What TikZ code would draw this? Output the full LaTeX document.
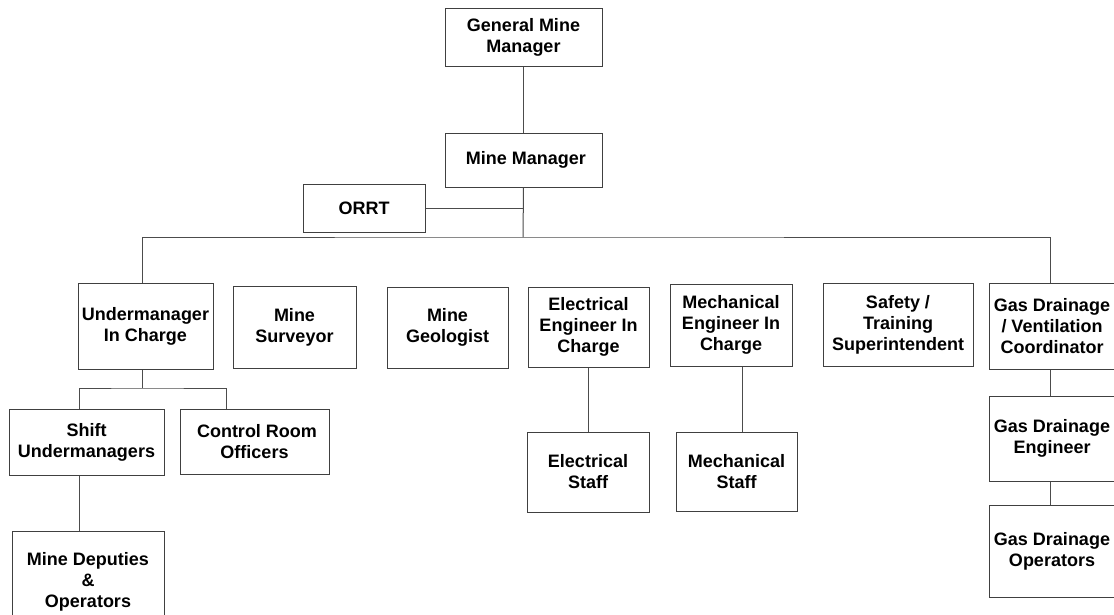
\documentclass[tikz,border=0pt]{standalone}
\usepackage{fontspec}
\setmainfont{Liberation Sans}
\usepackage{tikz}
\usetikzlibrary{positioning}

\begin{document}
\begin{tikzpicture}[x=1pt,y=-1pt,
    post/.style={draw=black!75, line width=1pt, fill=white, align=center,
        inner sep=2pt, font=\fontsize{18}{21}\selectfont\bfseries},
    link/.style={draw=black!70, line width=1pt}]
    \clip (0,0) rectangle (1114,614);
    \fill[white] (0,0) rectangle (1114,614);
    % top of the tree
    \node[post, minimum width=157, minimum height=58] (gmm) at (523.5,37) {General Mine\\Manager};
    \node[post, minimum width=157, minimum height=54] (mm) at (523.5,160) {\ Mine Manager};
    \node[post, minimum width=122, minimum height=48] (orrt) at (364,208) {ORRT};
    % second row
    \node[post, minimum width=135, minimum height=86] (uic) at (145.5,326) {Undermanager\\In Charge};
    \node[post, minimum width=123, minimum height=82] (surv) at (294.5,327) {Mine\\Surveyor};
    \node[post, minimum width=121, minimum height=81] (geol) at (447.5,327.5) {Mine\\Geologist};
    \node[post, minimum width=121, minimum height=80] (eeic) at (588.5,327) {Electrical\\Engineer In\\Charge};
    \node[post, minimum width=122, minimum height=82] (meic) at (731,325) {Mechanical\\Engineer In\\Charge};
    \node[post, minimum width=150, minimum height=83] (safety) at (898,324.5) {Safety /\\Training\\Superintendent};
    \node[post, minimum width=126, minimum height=86] (gdvc) at (1052,326) {Gas Drainage\\/ Ventilation\\Coordinator};
    % lower rows
    \node[post, minimum width=155, minimum height=66] (su) at (86.5,442) {Shift\\Undermanagers};
    \node[post, minimum width=149, minimum height=65] (cro) at (254.5,441.5) {\ Control Room\\Officers};
    \node[post, minimum width=152, minimum height=102] (mdo) at (88,582) {Mine Deputies\\\&\\Operators};
    \node[post, minimum width=122, minimum height=80] (es) at (588,472) {Electrical\\Staff};
    \node[post, minimum width=121, minimum height=79] (ms) at (736.5,471.5) {Mechanical\\Staff};
    \node[post, minimum width=126, minimum height=85] (gde) at (1052,438.5) {Gas Drainage\\Engineer};
    \node[post, minimum width=126, minimum height=92] (gdo) at (1052,551) {Gas Drainage\\Operators};
    % connectors
    \coordinate (bus) at (523,237);
    \coordinate (subbus) at (142,388);
    \draw[link] (gmm.south) -- (mm.north);
    \draw[link] (mm.south) -- (bus);
    \draw[link] (orrt.east) -- (orrt.east -| bus);
    \draw[link] ([xshift=-3.5pt]uic.north) |- (bus) -| ([xshift=-2pt]gdvc.north);
    \draw[link] ([xshift=-3.5pt]uic.south) -- (subbus);
    \draw[link] ([xshift=-7.5pt]su.north) |- (subbus) -| ([xshift=-28.5pt]cro.north);
    \draw[link] ([xshift=-7.5pt]su.south) -- ([xshift=-7.5pt]su.south |- mdo.north);
    \draw[link] (eeic.south) -- (eeic.south |- es.north);
    \draw[link] ([xshift=11pt]meic.south) -- ([xshift=11pt]meic.south |- ms.north);
    \draw[link] ([xshift=-2pt]gdvc.south) -- ([xshift=-2pt]gde.north);
    \draw[link] ([xshift=-2pt]gde.south) -- ([xshift=-2pt]gdo.north);
\end{tikzpicture}
\end{document}
